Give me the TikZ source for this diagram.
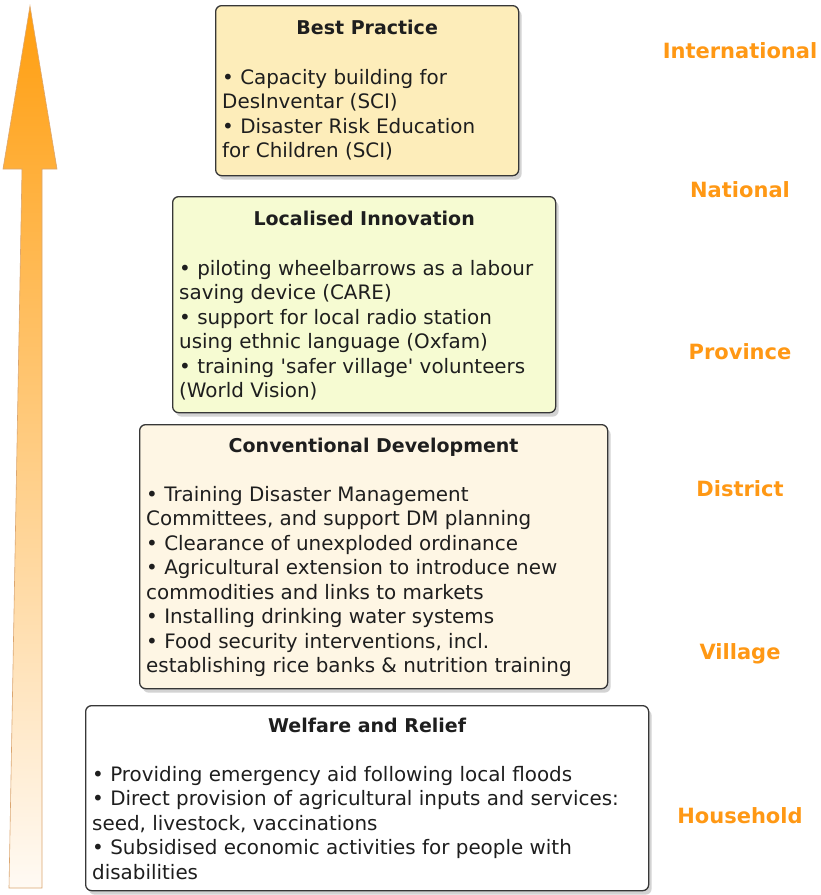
\documentclass[tikz,border=0pt]{standalone}
\usepackage{fontspec}
\setmainfont{DejaVu Sans}
\usetikzlibrary{positioning,shadows}

\definecolor{boxline}{RGB}{55,55,55}
\definecolor{textdark}{RGB}{30,30,30}
\definecolor{bestfill}{RGB}{253,237,186}
\definecolor{innovfill}{RGB}{246,251,210}
\definecolor{convfill}{RGB}{254,246,228}
\definecolor{levelorange}{RGB}{255,152,20}
\definecolor{arrowtop}{RGB}{255,158,15}
\definecolor{arrowmid}{RGB}{255,200,125}
\definecolor{arrowbot}{RGB}{255,250,244}

\begin{document}
\begin{tikzpicture}[x=1pt,y=-1pt]
  \tikzstyle{box}=[draw=boxline, line width=1.3pt, rounded corners=6pt, anchor=north west,
    drop shadow={shadow xshift=3pt, shadow yshift=-4pt, opacity=.35}]
  \tikzstyle{ttl}=[inner sep=0pt, text=textdark, font=\fontsize{19}{24.5}\selectfont\bfseries]
  \tikzstyle{body}=[inner sep=0pt, text=textdark, align=left, font=\fontsize{19.9}{24.5}\selectfont]
  \tikzstyle{level}=[inner sep=0pt, text=levelorange, font=\fontsize{21}{26}\selectfont\bfseries]

  \useasboundingbox (0,0) rectangle (821,895);

  % rising arrow on the left
  \shade[top color=arrowtop, middle color=arrowmid, bottom color=arrowbot,
    draw=orange!60!gray!70, line width=0.6pt]
    (9,888) -- (22,169) -- (3,169) -- (30,6) -- (57,169) -- (42,169) -- (42,888) -- cycle;

  % boxes
  \node[box, fill=bestfill, minimum width=303pt, minimum height=170pt] (best) at (215,5) {};
  \node[ttl, below=15pt of best.north] (bestT) {Best Practice};
  \node[body, below right=64pt and 7pt of best.north west] (bestB)
    {• Capacity building for\\DesInventar (SCI)\\• Disaster Risk Education\\for Children (SCI)};

  \node[box, fill=innovfill, minimum width=383pt, minimum height=216pt] (innov) at (172,196) {};
  \node[ttl, below=15pt of innov.north] (innovT) {Localised Innovation};
  \node[body, below right=64pt and 7pt of innov.north west] (innovB)
    {• piloting wheelbarrows as a labour\\saving device (CARE)\\• support for local radio station\\using ethnic language (Oxfam)\\• training \textquotesingle safer village\textquotesingle{} volunteers\\(World Vision)};

  \node[box, fill=convfill, minimum width=468pt, minimum height=264pt] (conv) at (139,424) {};
  \node[ttl, below=14pt of conv.north] (convT) {Conventional Development};
  \node[body, below right=62pt and 7pt of conv.north west] (convB)
    {• Training Disaster Management\\Committees, and support DM planning\\• Clearance of unexploded ordinance\\• Agricultural extension to introduce new\\commodities and links to markets\\• Installing drinking water systems\\• Food security interventions, incl.\\establishing rice banks \& nutrition training};

  \node[box, fill=white, minimum width=563pt, minimum height=185pt] (welf) at (85,705) {};
  \node[ttl, below=13pt of welf.north] (welfT) {Welfare and Relief};
  \node[body, below right=61pt and 7pt of welf.north west] (welfB)
    {• Providing emergency aid following local floods\\• Direct provision of agricultural inputs and services:\\seed, livestock, vaccinations\\• Subsidised economic activities for people with\\disabilities};

  % levels on the right
  \node[level] (intl) at (740,51) {International};
  \node[level] (natl) at (740,190) {National};
  \node[level] (prov) at (740,352) {Province};
  \node[level] (dist) at (740,489) {District};
  \node[level] (vill) at (740,654) {Village};
  \node[level] (hous) at (740,816) {Household};
\end{tikzpicture}
\end{document}
